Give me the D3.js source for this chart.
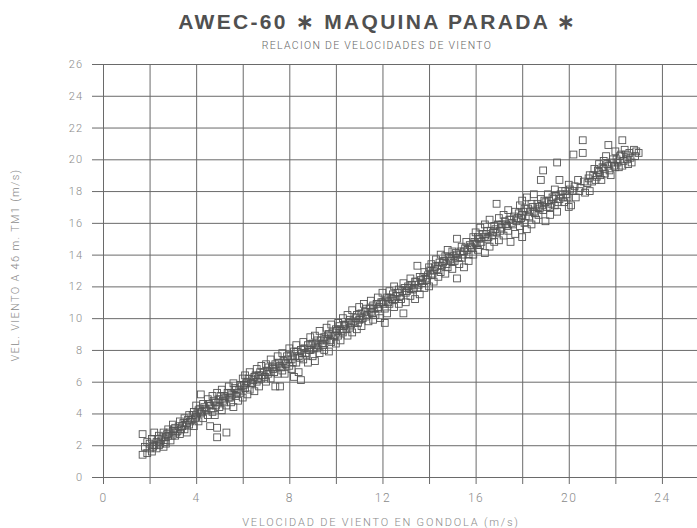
<!DOCTYPE html>
<html>
<head>
<meta charset="utf-8">
<script src="https://cdn.jsdelivr.net/npm/d3@7"></script>
<style>
  body { margin: 0; background: #fff; }
  svg { display: block; }
</style>
</head>
<body>
<div class="graphContainer"></div>
<script>
var width = 697;
var height = 528;

// ticks
var xTicks = [0, 2, 4, 6, 8, 10, 12, 14, 16, 18, 20, 22, 24, 26];
var xLabels = [0, 4, 8, 12, 16, 20, 24];
var yTicks = [0, 2, 4, 6, 8, 10, 12, 14, 16, 18, 20, 22, 24, 26];

// points, grouped by gondola wind speed (m/s)
var band2to4 = [[1.7,1.4],[1.7,2.7],[1.8,1.9],[1.9,1.5],[1.9,2.2],[2.0,1.8],[2.1,2.4],[2.1,1.6],[2.2,2.0],[2.2,2.8],[2.3,2.2],[2.3,1.8],[2.4,2.6],[2.4,2.0],[2.5,2.3],[2.6,1.9],[2.6,2.8],[2.7,2.5],[2.7,2.1],[2.8,3.0],[2.8,2.6],[2.9,2.3],[3.0,2.9],[3.0,3.3],[3.1,2.6],[3.1,3.1],[3.2,2.9],[3.3,3.5],[3.3,2.7],[3.4,3.2],[3.5,3.7],[3.5,3.0],[3.6,3.4],[3.6,2.8],[3.7,3.9],[3.7,3.3],[3.8,3.6],[3.9,4.1],[3.9,3.2],[4.0,3.8],[4.0,4.5]];
var band4to6 = [[4.1,4.2],[4.1,3.5],[4.2,5.2],[4.2,4.0],[4.3,4.6],[4.3,3.7],[4.4,4.3],[4.5,4.9],[4.5,3.9],[4.6,3.2],[4.6,4.5],[4.7,5.1],[4.7,4.1],[4.8,4.7],[4.8,3.9],[4.9,2.5],[4.9,5.3],[4.9,3.1],[5.0,4.4],[5.0,4.9],[5.1,5.5],[5.1,4.2],[5.2,4.7],[5.2,5.1],[5.3,2.8],[5.3,4.5],[5.4,5.0],[5.4,5.7],[5.5,4.7],[5.5,5.3],[5.6,4.4],[5.6,5.9],[5.7,5.1],[5.7,5.5],[5.8,4.8],[5.9,5.8],[5.9,5.3],[6.0,6.2],[6.0,5.0]];
var band6to8 = [[6.1,5.6],[6.1,6.4],[6.2,5.2],[6.2,6.0],[6.3,6.6],[6.3,5.5],[6.4,5.9],[6.5,6.3],[6.5,5.4],[6.6,6.8],[6.6,6.0],[6.7,6.4],[6.7,5.7],[6.8,7.0],[6.8,6.2],[6.9,6.6],[7.0,6.0],[7.0,7.1],[7.1,6.5],[7.1,6.9],[7.2,6.2],[7.2,7.4],[7.3,6.8],[7.4,5.7],[7.4,7.1],[7.5,6.5],[7.5,7.6],[7.6,5.7],[7.6,7.0],[7.7,6.7],[7.7,7.8],[7.8,7.2],[7.8,6.5],[7.9,7.6],[8.0,7.0],[8.0,8.1]];
var band8to10 = [[8.1,7.4],[8.1,6.8],[8.2,7.9],[8.2,6.3],[8.3,7.2],[8.3,8.3],[8.4,7.6],[8.4,6.6],[8.5,8.0],[8.5,6.1],[8.6,7.4],[8.6,8.5],[8.7,7.8],[8.8,7.2],[8.8,8.3],[8.9,8.0],[8.9,8.8],[9.0,7.6],[9.0,8.4],[9.1,7.3],[9.1,8.9],[9.2,8.1],[9.2,8.6],[9.3,7.8],[9.3,9.2],[9.4,8.4],[9.5,8.8],[9.5,8.0],[9.6,9.4],[9.6,8.6],[9.7,7.9],[9.7,9.0],[9.8,8.5],[9.8,9.6],[9.9,8.9],[10.0,9.3],[10.0,8.4]];
var band10to12 = [[10.1,9.7],[10.1,8.9],[10.2,9.3],[10.2,8.6],[10.3,10.0],[10.3,9.1],[10.4,9.6],[10.5,8.9],[10.5,10.2],[10.6,9.4],[10.6,9.9],[10.7,9.1],[10.7,10.5],[10.8,9.7],[10.9,10.2],[10.9,9.3],[11.0,10.7],[11.0,9.9],[11.1,10.3],[11.1,9.5],[11.2,10.9],[11.3,10.1],[11.3,10.6],[11.4,9.8],[11.5,11.1],[11.5,10.4],[11.6,9.9],[11.6,10.8],[11.7,10.2],[11.8,11.3],[11.8,10.6],[11.9,10.0],[12.0,11.0],[12.0,11.6],[12.1,9.7]];
var band12to14 = [[12.1,10.6],[12.2,11.3],[12.2,10.3],[12.3,11.7],[12.3,10.9],[12.4,11.2],[12.5,10.7],[12.5,12.0],[12.6,11.4],[12.7,10.9],[12.7,11.8],[12.8,11.2],[12.9,10.3],[12.9,12.2],[13.0,11.6],[13.0,11.0],[13.1,12.0],[13.2,11.4],[13.2,12.5],[13.3,11.8],[13.4,11.2],[13.4,12.3],[13.5,13.3],[13.5,11.9],[13.6,12.6],[13.6,11.5],[13.7,12.2],[13.8,12.9],[13.8,11.9],[13.9,12.4],[14.0,13.2],[14.0,12.0],[14.1,12.7]];
var band14to16 = [[14.1,13.4],[14.2,12.3],[14.2,13.0],[14.3,13.7],[14.4,12.6],[14.4,13.3],[14.5,12.9],[14.5,14.0],[14.6,13.5],[14.7,12.8],[14.7,13.9],[14.8,13.2],[14.8,14.3],[14.9,13.7],[15.0,13.1],[15.0,14.2],[15.1,13.6],[15.2,15.0],[15.2,12.5],[15.2,14.0],[15.3,13.4],[15.4,14.5],[15.4,13.8],[15.5,14.2],[15.5,13.2],[15.6,14.8],[15.7,14.0],[15.7,13.6],[15.8,14.5],[15.9,15.1],[15.9,14.0],[16.0,14.7],[16.0,15.4]];
var band16to18 = [[16.1,14.3],[16.1,15.1],[16.2,15.7],[16.2,14.6],[16.3,15.3],[16.4,14.1],[16.4,15.9],[16.5,15.0],[16.5,15.5],[16.6,14.5],[16.6,16.2],[16.7,15.2],[16.8,15.8],[16.8,14.8],[16.9,17.2],[16.9,15.4],[17.0,16.3],[17.0,14.9],[17.1,15.7],[17.2,16.5],[17.2,15.2],[17.3,15.9],[17.4,16.8],[17.4,15.5],[17.5,16.2],[17.5,14.8],[17.6,15.9],[17.7,16.7],[17.7,15.3],[17.8,16.3],[17.9,17.1],[17.9,15.8],[18.0,16.5],[18.0,17.4],[18.0,15.1]];
var band18to20 = [[18.1,16.0],[18.1,16.9],[18.2,17.6],[18.2,15.6],[18.3,16.4],[18.4,17.2],[18.4,15.9],[18.5,16.7],[18.5,17.8],[18.6,16.2],[18.7,17.0],[18.7,16.5],[18.8,18.7],[18.8,17.5],[18.9,19.3],[18.9,16.8],[19.0,17.3],[19.0,16.1],[19.1,17.8],[19.2,17.0],[19.2,16.5],[19.3,17.6],[19.4,18.1],[19.4,17.1],[19.5,19.8],[19.5,16.7],[19.6,18.7],[19.6,17.5],[19.7,18.0],[19.8,17.3],[19.9,17.8],[20.0,18.4],[20.0,17.0]];
var band20to23 = [[20.1,17.1],[20.2,20.3],[20.2,18.0],[20.3,17.6],[20.4,18.7],[20.5,18.2],[20.6,21.2],[20.6,20.4],[20.7,17.9],[20.8,18.5],[20.9,18.0],[20.9,19.0],[21.0,18.6],[21.1,19.4],[21.2,18.9],[21.3,19.7],[21.3,19.2],[21.4,18.7],[21.5,19.9],[21.5,19.4],[21.6,20.2],[21.7,20.9],[21.7,19.6],[21.8,19.0],[21.9,20.0],[22.0,19.5],[22.0,20.5],[22.1,19.8],[22.2,20.2],[22.3,21.2],[22.3,19.6],[22.4,20.6],[22.5,20.0],[22.6,20.4],[22.7,19.8],[22.9,20.5],[23.0,20.4]];

// the dense middle of the band, where squares pile up
var core2to8 = [[2.0,2.1],[2.15,1.9],[2.35,2.4],[2.45,2.1],[2.55,2.5],[2.65,2.2],[2.75,2.7],[2.85,2.8],[2.95,2.6],[3.05,3.0],[3.15,2.8],[3.25,3.2],[3.35,3.0],[3.45,3.4],[3.55,3.3],[3.65,3.6],[3.75,3.5],[3.85,3.9],[3.95,3.7],[4.05,4.0],[4.15,4.3],[4.25,4.1],[4.35,4.4],[4.45,4.2],[4.55,4.6],[4.65,4.3],[4.75,4.8],[4.85,4.5],[4.95,4.7],[5.05,5.1],[5.15,4.8],[5.25,5.0],[5.35,5.3],[5.45,5.0],[5.55,5.2],[5.65,5.6],[5.75,5.3],[5.85,5.5],[5.95,5.7],[6.05,5.8],[6.15,5.9],[6.25,6.2],[6.35,5.9],[6.45,6.1],[6.55,6.4],[6.65,6.2],[6.75,6.6],[6.85,6.4],[6.95,6.3],[7.05,6.7],[7.15,6.6],[7.25,6.9],[7.35,6.6],[7.45,6.9],[7.55,7.2],[7.65,6.9],[7.75,7.3],[7.85,7.1],[7.95,7.4]];
var core8to14 = [[8.05,7.6],[8.15,7.2],[8.25,7.6],[8.35,7.9],[8.45,7.5],[8.55,7.8],[8.65,8.1],[8.75,7.7],[8.85,8.0],[8.95,8.3],[9.05,8.1],[9.15,8.4],[9.25,8.3],[9.35,8.6],[9.45,8.3],[9.55,8.7],[9.65,8.9],[9.75,8.6],[9.85,9.1],[9.95,8.9],[10.05,9.2],[10.15,9.5],[10.25,9.2],[10.35,9.5],[10.45,9.3],[10.55,9.7],[10.65,9.6],[10.75,9.8],[10.85,10.0],[10.95,9.7],[11.05,10.1],[11.15,10.0],[11.25,10.4],[11.35,10.2],[11.45,10.6],[11.55,10.3],[11.65,10.6],[11.75,10.9],[11.85,10.7],[11.95,11.0],[12.05,10.9],[12.15,11.1],[12.25,11.0],[12.35,11.3],[12.45,11.5],[12.55,11.2],[12.65,11.6],[12.75,11.4],[12.85,11.7],[12.95,11.9],[13.05,11.7],[13.15,11.9],[13.25,12.1],[13.35,11.9],[13.45,12.3],[13.55,12.1],[13.65,12.4],[13.75,12.6],[13.85,12.5],[13.95,12.7]];
var core14to20 = [[14.05,13.0],[14.15,12.8],[14.25,13.2],[14.35,13.1],[14.45,13.5],[14.55,13.3],[14.65,13.6],[14.75,13.4],[14.85,13.8],[14.95,13.6],[15.05,13.9],[15.15,14.1],[15.25,13.8],[15.35,14.2],[15.45,14.0],[15.55,14.4],[15.65,14.3],[15.75,14.6],[15.85,14.4],[15.95,14.8],[16.05,14.6],[16.15,15.0],[16.25,14.8],[16.35,15.1],[16.45,15.3],[16.55,15.1],[16.65,15.5],[16.75,15.4],[16.85,15.6],[16.95,15.9],[17.05,15.5],[17.15,15.9],[17.25,16.1],[17.35,15.8],[17.45,16.2],[17.55,16.0],[17.65,16.4],[17.75,16.1],[17.85,16.6],[17.95,16.3],[18.05,16.7],[18.15,16.4],[18.25,16.9],[18.35,16.7],[18.45,17.0],[18.55,16.6],[18.65,17.2],[18.75,16.9],[18.85,17.1],[18.95,17.4],[19.05,17.0],[19.15,17.4],[19.25,17.2],[19.35,17.5],[19.45,17.7],[19.55,17.3],[19.65,17.8],[19.75,17.6],[19.85,18.0],[19.95,17.6]];
var core20to23 = [[20.05,18.1],[20.25,18.3],[20.45,18.0],[20.65,18.6],[20.85,18.8],[21.05,19.0],[21.15,18.7],[21.25,19.3],[21.35,19.0],[21.45,19.5],[21.55,19.1],[21.65,19.7],[21.75,19.3],[21.85,19.8],[21.95,19.6],[22.05,20.0],[22.15,19.5],[22.25,20.3],[22.35,19.9],[22.45,20.3],[22.55,19.7],[22.65,20.1],[22.8,20.6],[22.85,20.2]];

var points = [].concat(band2to4, band4to6, band6to8, band8to10, band10to12,
  band12to14, band14to16, band16to18, band18to20, band20to23,
  core2to8, core8to14, core14to20, core20to23);

var svg = d3
  .select(".graphContainer")
  .append("svg")
  .attr("width", width)
  .attr("height", height);

var xScale = d3.scaleLinear().domain([0, 26]).range([103, 708.5]);
var yScale = d3.scaleLinear().domain([0, 26]).range([477, 64]);

var gridColor = "#6a6a6a";
var textColor = "#8a8a8a";

// y grid + outward ticks
var yAxis = d3
  .axisLeft(yScale)
  .tickValues(yTicks)
  .tickSize(-(width - 92))
  .tickPadding(9);

var yAxisGroup = svg
  .append("g")
  .attr("transform", "translate(92,0)")
  .call(yAxis);
yAxisGroup.select(".domain").remove();
yAxisGroup.selectAll("line").attr("stroke", gridColor);
yAxisGroup
  .selectAll("text")
  .attr("fill", textColor)
  .style("font-family", "Roboto")
  .style("font-weight", "300")
  .style("font-size", "11px")
  .style("letter-spacing", "1px");

// x grid + outward ticks
var xAxis = d3
  .axisBottom(xScale)
  .tickValues(xTicks)
  .tickSize(-(484 - 64))
  .tickPadding(9)
  .tickFormat((d) => (xLabels.indexOf(d) >= 0 ? d : ""));

var xAxisGroup = svg
  .append("g")
  .attr("transform", "translate(0,484)")
  .call(xAxis);
xAxisGroup.select(".domain").remove();
xAxisGroup.selectAll("line").attr("stroke", gridColor);
xAxisGroup
  .selectAll("text")
  .attr("fill", textColor)
  .style("font-family", "Roboto")
  .style("font-weight", "300")
  .style("font-size", "12px")
  .style("letter-spacing", "1.5px");

// points
svg
  .append("g")
  .selectAll("rect")
  .data(points)
  .enter()
  .append("rect")
  .attr("x", (d) => xScale(d[0]) - 3.4)
  .attr("y", (d) => yScale(d[1]) - 3.4)
  .attr("width", 6.8)
  .attr("height", 6.8)
  .attr("fill", "none")
  .attr("stroke", "#555")
  .attr("stroke-width", 0.9);

// titles
svg
  .append("text")
  .attr("x", 378)
  .attr("y", 29)
  .attr("text-anchor", "middle")
  .text("AWEC-60 \u2217 MAQUINA PARADA \u2217")
  .style("font-family", "Liberation Sans")
  .style("font-weight", "bold")
  .style("font-size", "21px")
  .style("letter-spacing", "2.3px")
  .attr("fill", "#505050");

svg
  .append("text")
  .attr("x", 377)
  .attr("y", 49)
  .attr("text-anchor", "middle")
  .text("RELACION DE VELOCIDADES DE VIENTO")
  .style("font-family", "Roboto")
  .style("font-weight", "300")
  .style("font-size", "10.5px")
  .style("letter-spacing", "1.3px")
  .attr("fill", "#666");

svg
  .append("text")
  .attr("x", 381)
  .attr("y", 526)
  .attr("text-anchor", "middle")
  .text("VELOCIDAD DE VIENTO EN GONDOLA (m/s)")
  .style("font-family", "Roboto")
  .style("font-weight", "300")
  .style("font-size", "11px")
  .style("letter-spacing", "1.8px")
  .attr("fill", textColor);

svg
  .append("text")
  .attr("transform", "translate(19,265) rotate(-90)")
  .attr("text-anchor", "middle")
  .text("VEL. VIENTO A 46 m. TM1 (m/s)")
  .style("font-family", "Roboto")
  .style("font-weight", "300")
  .style("font-size", "11px")
  .style("letter-spacing", "1.3px")
  .attr("fill", textColor);
</script>
</body>
</html>
